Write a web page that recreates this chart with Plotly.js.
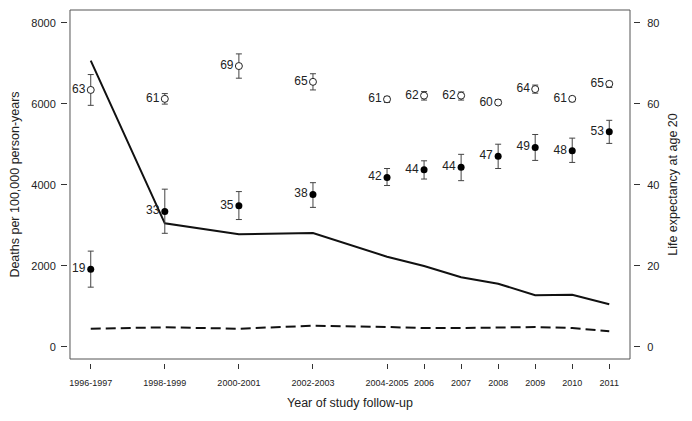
<!DOCTYPE html>
<html>
<head>
<meta charset="utf-8">
<script src="https://cdn.plot.ly/plotly-3.0.1.min.js"></script>
<style>html,body{margin:0;padding:0;background:#fff;}#chart{width:692px;height:421px;}</style>
</head>
<body>
<div id="chart"></div>
<script>
// ---- data ----
var periods = ['1996-1997','1998-1999','2000-2001','2002-2003','2004-2005','2006','2007','2008','2009','2010','2011'];
var xpos = [0, 2, 4, 6, 8, 9, 10, 11, 12, 13, 14];
var deathsSolid = [7062, 3047, 2775, 2807, 2222, 1993, 1714, 1556, 1269, 1280, 1047];
var deathsDashed = [444, 479, 444, 519, 486, 462, 460, 470, 486, 462, 380];
var lifeOpen = [63.4, 61.2, 69.3, 65.4, 61.1, 62.0, 62.0, 60.3, 63.6, 61.2, 64.9];
var lifeOpenHi = [67.2, 62.5, 72.3, 67.4, 61.8, 63.0, 62.9, 61.0, 64.6, 61.7, 65.5];
var lifeOpenLo = [59.6, 59.9, 66.3, 63.4, 60.3, 60.9, 60.9, 59.8, 62.6, 60.5, 64.0];
var lifeFilled = [19.1, 33.4, 34.8, 37.6, 41.8, 43.7, 44.3, 47.0, 49.2, 48.4, 53.1];
var lifeFilledHi = [23.6, 38.9, 38.3, 40.5, 44.0, 45.9, 47.5, 50.0, 52.4, 51.5, 55.9];
var lifeFilledLo = [14.7, 28.0, 31.4, 34.4, 39.8, 41.4, 41.0, 44.0, 46.0, 45.5, 50.2];
var leftTicks = [0, 2000, 4000, 6000, 8000];
var rightTicks = [0, 20, 40, 60, 80];

function diff(a, b) { return a.map(function (v, i) { return Math.abs(v - b[i]); }); }
function labels(a) { return a.map(function (v) { return String(Math.round(v)); }); }

var FONT = 'Liberation Sans, Arial, sans-serif';
var TXT = '#222222';

var traces = [
  { x: xpos, y: deathsSolid, mode: 'lines', line: {color: '#111', width: 2}, yaxis: 'y', hoverinfo: 'skip' },
  { x: xpos, y: deathsDashed, mode: 'lines', line: {color: '#111', width: 2, dash: '10px,5px'}, yaxis: 'y', hoverinfo: 'skip' },
  { x: xpos, y: lifeOpen, yaxis: 'y2', mode: 'markers+text',
    text: labels(lifeOpen), textposition: 'middle left', textfont: {family: FONT, size: 12, color: TXT},
    marker: {symbol: 'circle', size: 7, color: '#fff', line: {color: '#222', width: 1}},
    error_y: {type: 'data', symmetric: false, array: diff(lifeOpenHi, lifeOpen), arrayminus: diff(lifeOpen, lifeOpenLo), color: '#444', thickness: 1, width: 3},
    cliponaxis: false },
  { x: xpos, y: lifeFilled, yaxis: 'y2', mode: 'markers+text',
    text: labels(lifeFilled), textposition: 'middle left', textfont: {family: FONT, size: 12, color: TXT},
    marker: {symbol: 'circle', size: 7, color: '#000'},
    error_y: {type: 'data', symmetric: false, array: diff(lifeFilledHi, lifeFilled), arrayminus: diff(lifeFilled, lifeFilledLo), color: '#444', thickness: 1, width: 3},
    cliponaxis: false }
];

var layout = {
  width: 692, height: 421,
  margin: {l: 67, r: 59, t: 10, b: 58},
  paper_bgcolor: '#fff', plot_bgcolor: '#fff',
  showlegend: false,
  font: {family: FONT, color: TXT},
  xaxis: {
    domain: [0.0053, 0.9947], range: [-0.56, 14.56], anchor: 'free', position: 0,
    tickmode: 'array', tickvals: xpos, ticktext: periods,
    ticks: 'outside', ticklen: 5, tickcolor: '#333', tickwidth: 1,
    showgrid: false, zeroline: false, showline: false,
    tickfont: {family: FONT, size: 9, color: TXT}, ticklabelstandoff: 6,
    title: {text: 'Year of study follow-up', font: {family: FONT, size: 12.5, color: TXT}, standoff: 11}
  },
  yaxis: {
    domain: [0.0113, 1], range: [-304, 8314], anchor: 'free', position: 0,
    tickmode: 'array', tickvals: leftTicks,
    ticks: 'outside', ticklen: 6, tickcolor: '#333', tickwidth: 1,
    showgrid: false, zeroline: false, showline: false,
    tickfont: {family: FONT, size: 11, color: TXT}, ticklabelstandoff: 3,
    title: {text: 'Deaths per 100,000 person-years', font: {family: FONT, size: 12.5, color: TXT}, standoff: 7}
  },
  yaxis2: {
    domain: [0.0113, 1], range: [-3.04, 83.14], overlaying: 'y', side: 'right', anchor: 'free', position: 1,
    tickmode: 'array', tickvals: rightTicks,
    ticks: 'outside', ticklen: 6, tickcolor: '#333', tickwidth: 1,
    showgrid: false, zeroline: false, showline: false,
    tickfont: {family: FONT, size: 11, color: TXT}, ticklabelstandoff: 5,
    title: {text: 'Life expectancy at age 20', font: {family: FONT, size: 12.5, color: TXT}, standoff: 9}
  },
  shapes: [
    {type: 'rect', xref: 'paper', yref: 'paper', x0: 0.0053, x1: 0.9947, y0: 0.0113, y1: 1,
     line: {color: '#555', width: 1}, fillcolor: 'rgba(0,0,0,0)'}
  ]
};

Plotly.newPlot('chart', traces, layout, {staticPlot: true, displayModeBar: false});
</script>
</body>
</html>
